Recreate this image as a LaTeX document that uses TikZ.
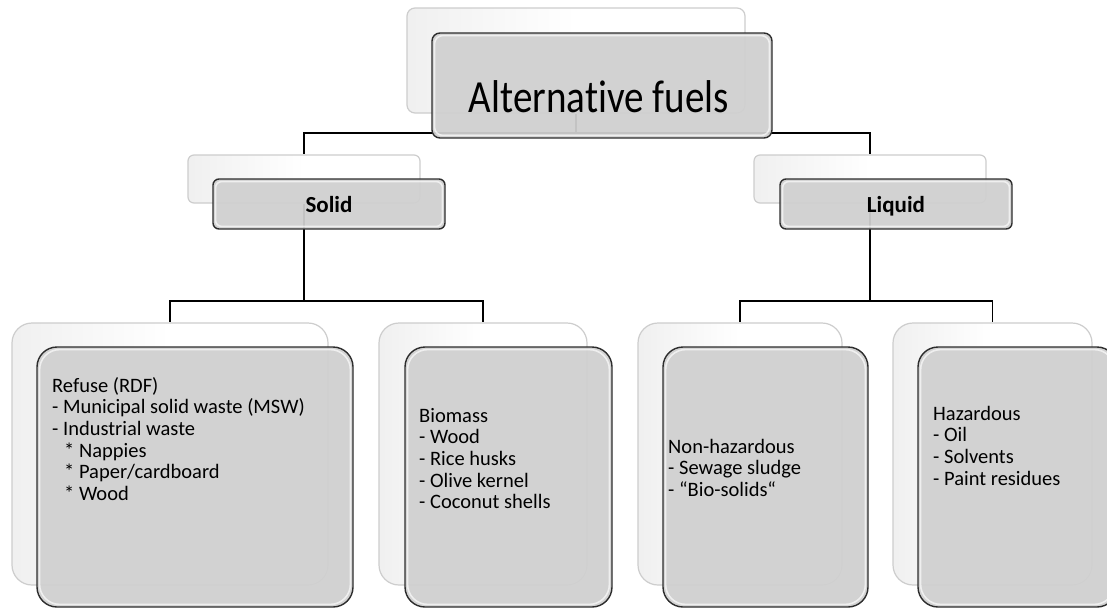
\documentclass[tikz,border=0pt]{standalone}
\usepackage{fontspec}
\setmainfont{Carlito}[Ligatures=NoCommon]
\definecolor{frontfill}{RGB}{208,208,208}
\definecolor{frontline}{RGB}{45,45,45}
\definecolor{backline}{RGB}{205,205,205}
\pgfdeclarelayer{bg}
\pgfsetlayers{bg,main}
\begin{document}
\begin{tikzpicture}[x=1pt,y=-1pt,
  backbox/.style={draw=backline, line width=1.2pt, inner sep=0pt, rounded corners=#1,
    left color=gray!12, right color=white, middle color=white},
  frontbox/.style={draw=frontline, line width=1.4pt, fill=frontfill, fill opacity=0.94, inner sep=0pt,
    rounded corners=#1,
    path picture={\draw[white, draw opacity=0.65, line width=1.6pt, rounded corners=#1]
      ([shift={(2.6,-2.6)}]path picture bounding box.south west) rectangle
      ([shift={(-2.6,2.6)}]path picture bounding box.north east);}},
  conn/.style={draw=black, line width=1.8pt},
  toplabel/.style={font=\fontsize{46}{50}\selectfont, inner sep=0pt, anchor=base},
  midlabel/.style={font=\bfseries\fontsize{23}{26}\selectfont, inner sep=0pt, anchor=base},
  leaflabel/.style={font=\fontsize{20.5}{21.6}\selectfont, inner sep=0pt, anchor=north west, align=left}]
\useasboundingbox (0,0) rectangle (1107,608);

% back boxes
\node[backbox=8pt, minimum width=338pt, minimum height=105pt] (topB) at (576,60.5) {};
\node[backbox=6pt, minimum width=232pt, minimum height=48pt] (solidB) at (304,179) {};
\node[backbox=6pt, minimum width=232pt, minimum height=48pt] (liquidB) at (870,179) {};
\node[backbox=20pt, minimum width=316pt, minimum height=262pt] (refB) at (170,454) {};
\node[backbox=20pt, minimum width=208pt, minimum height=262pt] (bioB) at (483,454) {};
\node[backbox=20pt, minimum width=204pt, minimum height=262pt] (nonB) at (740,454) {};
\node[backbox=20pt, minimum width=199pt, minimum height=262pt] (hazB) at (992.5,454) {};

% front boxes
\node[frontbox=8pt, minimum width=340pt, minimum height=105pt] (topF) at (602,85.5) {};
\node[frontbox=6pt, minimum width=232pt, minimum height=50pt] (solidF) at (329,204) {};
\node[frontbox=6pt, minimum width=232pt, minimum height=50pt] (liquidF) at (896,204) {};
\node[frontbox=20pt, minimum width=316pt, minimum height=260pt] (refF) at (195,477) {};
\node[frontbox=20pt, minimum width=207pt, minimum height=260pt] (bioF) at (508.5,477) {};
\node[frontbox=20pt, minimum width=205pt, minimum height=260pt] (nonF) at (765.5,477) {};
\node[frontbox=20pt, minimum width=199pt, minimum height=260pt] (hazF) at (1017.5,477) {};

% labels
\node[toplabel] (topT) at (599,112) {\scalebox{0.85}[1]{Alternative fuels}};
\node[midlabel] (solidT) at (329,212) {Solid};
\node[midlabel] (liquidT) at (896,212) {Liquid};
\node[leaflabel] (refT) at (52,376.9) {\strut Refuse (RDF)\\- Municipal solid waste (MSW)\\- Industrial waste\\\hspace*{12pt}* Nappies\\\hspace*{12pt}* Paper/cardboard\\\hspace*{12pt}* Wood};
\node[leaflabel] (bioT) at (419,406.9) {\strut Biomass\\- Wood\\- Rice husks\\- Olive kernel\\- Coconut shells};
\node[leaflabel] (nonT) at (668,437.9) {\strut Non-hazardous\\- Sewage sludge\\- “Bio-solids“};
\node[leaflabel] (hazT) at (933,404.9) {\strut Hazardous\\- Oil\\- Solvents\\- Paint residues};

% connectors
\coordinate (j1) at (576,133);
\coordinate (j2) at (304,301);
\coordinate (j3) at (870,301);
\begin{pgfonlayer}{bg}
\fill[white] (0,0) rectangle (1107,608);
\draw[conn] (topB.south) -- (j1);
\draw[conn] (j1) -| (solidB.north);
\draw[conn] (j1) -| (liquidB.north);
\draw[conn] (solidB.south) -- (j2);
\draw[conn] (j2) -| (refB.north);
\draw[conn] (j2) -| (bioB.north);
\draw[conn] (liquidB.south) -- (j3);
\draw[conn] (j3) -| (nonB.north);
\draw[conn] (j3) -| (hazB.north);
\end{pgfonlayer}
\end{tikzpicture}
\end{document}
